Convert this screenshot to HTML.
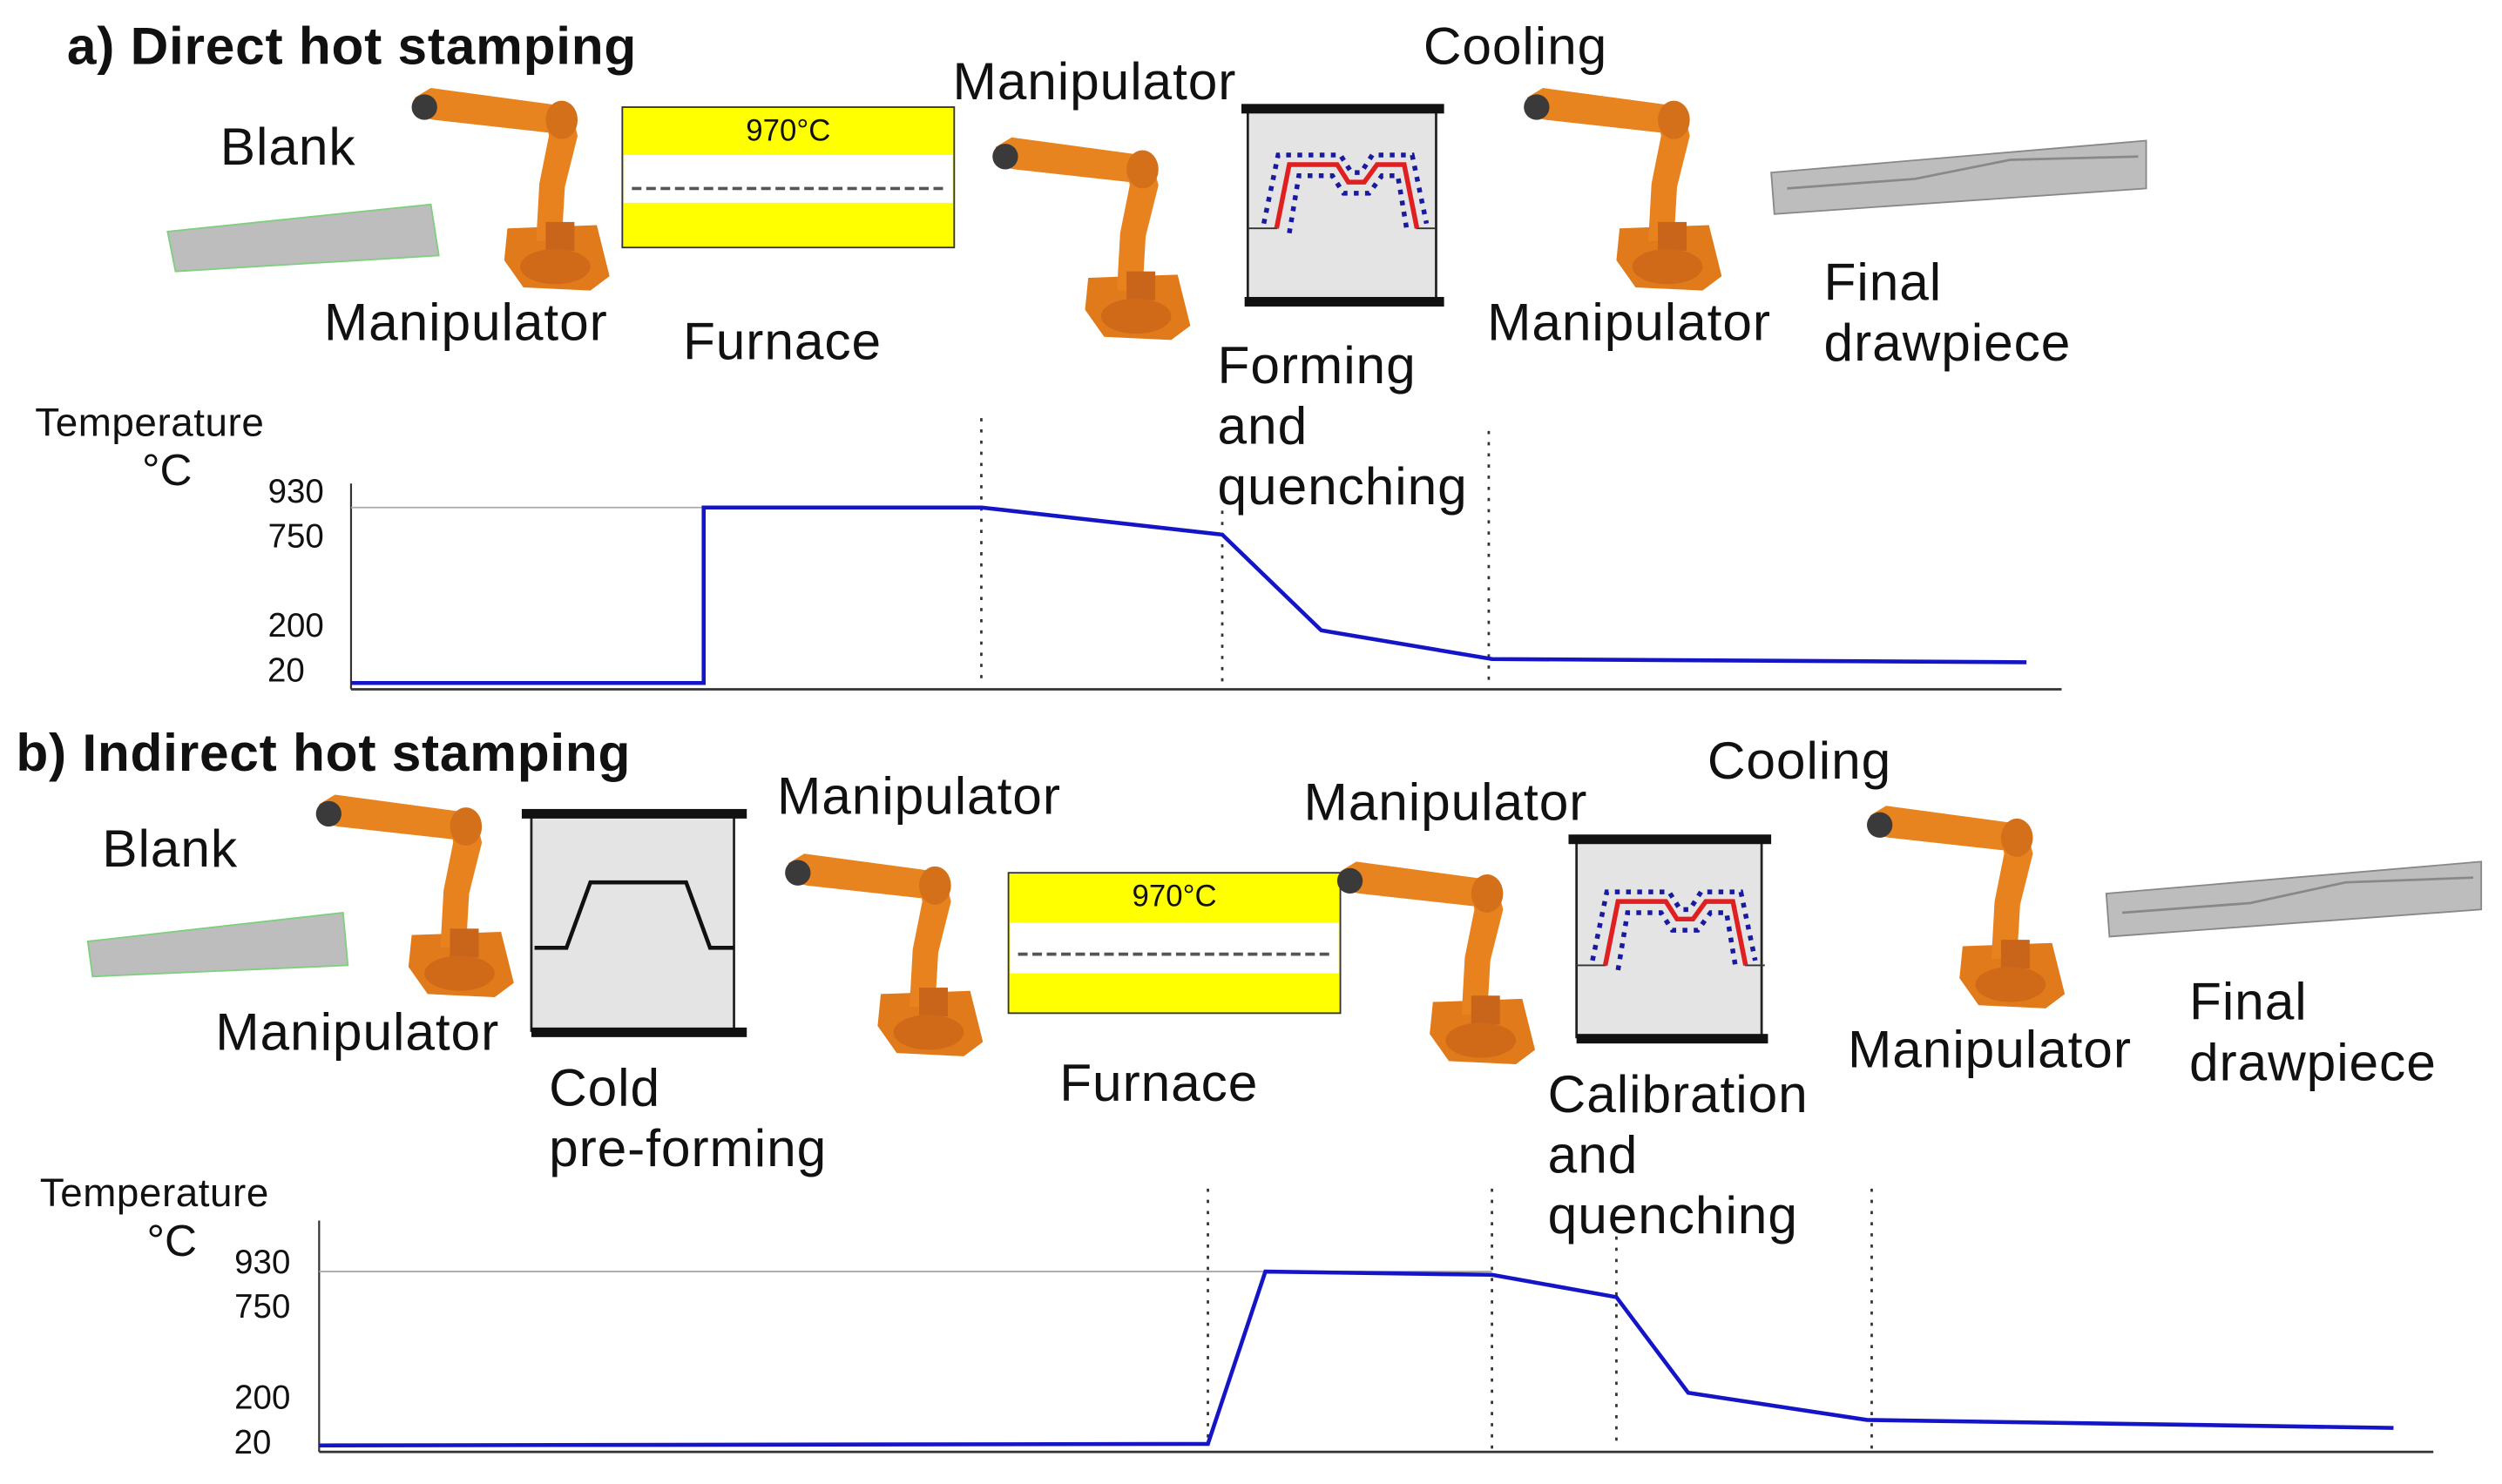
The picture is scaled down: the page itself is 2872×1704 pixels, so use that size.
<!DOCTYPE html>
<html><head><meta charset="utf-8"><style>
html,body{margin:0;padding:0;background:#fff;}
svg{display:block;}
text{font-family:"Liberation Sans",Arial,sans-serif;fill:#111;}
.l{font-size:33px;letter-spacing:0.5px;}
.t{font-size:33px;font-weight:bold;letter-spacing:0.4px;}
.s{font-size:25px;letter-spacing:0.3px;}
.c{font-size:28px;}
.f{font-size:21px;}
.fu{font-size:19px;}
</style></head><body>
<svg width="2872" height="1704" viewBox="0 0 1568 930" xmlns="http://www.w3.org/2000/svg">
<defs>
<g id="robot">
  <polygon points="60,88 116,86 124,118 112,127 70,125 58,108" fill="#e07a1a"/>
  <polygon points="84,18 100,14 104,30 96,62 94,96 78,96 80,60 86,30" fill="#e8821e"/>
  <polygon points="2,6 12,0 86,10 100,12 102,26 86,28 14,20 4,18" fill="#e8841f"/>
  <ellipse cx="8" cy="12" rx="8" ry="8" fill="#3a3a3a"/>
  <ellipse cx="94" cy="20" rx="10" ry="12" fill="#d4701a"/>
  <rect x="84" y="84" width="18" height="18" fill="#c9651a"/>
  <ellipse cx="90" cy="112" rx="22" ry="11" fill="#d06a18"/>
</g>
<g id="profile">
  <polyline points="0,73 18,73 26,33 56,33 63,44 73,44 81,33 98,33 106,73 118,73" fill="none" stroke="#333" stroke-width="1"/>
  <polyline points="18,73 26,33 56,33 63,44 73,44 81,33 98,33 106,73" fill="none" stroke="#e02020" stroke-width="3"/>
  <polyline points="10,70 19,27 58,27 65,38 71,38 78,27 103,27 112,70" fill="none" stroke="#1a1aa0" stroke-width="3" stroke-dasharray="3,4"/>
  <polyline points="26,76 32,40 53,40 60,51 76,51 84,40 94,40 100,76" fill="none" stroke="#1a1aa0" stroke-width="3" stroke-dasharray="3,4"/>
</g>
</defs>

<!-- ===== a) ===== -->
<text class="t" x="42" y="40">a) Direct hot stamping</text>
<text class="l" x="138" y="103">Blank</text>
<polygon points="105,145 270,128 275,160 110,170" fill="#bdbdbd" stroke="#7fcf7f" stroke-width="1"/>
<use href="#robot" x="258" y="55"/>
<text class="l" x="203" y="213">Manipulator</text>
<rect x="390" y="67" width="208" height="88" fill="#ffff00" stroke="#333" stroke-width="1"/>
<rect x="391" y="97" width="206" height="30" fill="#fff"/>
<line x1="396" y1="118" x2="592" y2="118" stroke="#555" stroke-width="2" stroke-dasharray="6,3"/>
<text class="fu" x="494" y="88" text-anchor="middle">970°C</text>
<text class="l" x="428" y="225">Furnace</text>
<text class="l" x="597" y="62">Manipulator</text>
<use href="#robot" x="622" y="86"/>
<rect x="782" y="70" width="118" height="118" fill="#e4e4e4" stroke="#222" stroke-width="1.5"/>
<rect x="778" y="65" width="127" height="6" fill="#111"/>
<rect x="780" y="186" width="125" height="6" fill="#111"/>
<use href="#profile" x="782" y="70"/>
<text class="l" x="892" y="40">Cooling</text>
<use href="#robot" x="955" y="55"/>
<text class="l" x="932" y="213">Manipulator</text>
<polygon points="1110,108 1345,88 1345,118 1112,134" fill="#bdbdbd" stroke="#888" stroke-width="1"/>
<polyline points="1120,118 1200,112 1260,100 1340,98" fill="none" stroke="#888" stroke-width="1.5"/>
<text class="l" x="1143" y="188">Final</text>
<text class="l" x="1143" y="226">drawpiece</text>
<text class="l" x="763" y="240">Forming</text>
<text class="l" x="763" y="278">and</text>
<text class="l" x="763" y="316">quenching</text>

<text class="s" x="22" y="273">Temperature</text>
<text class="c" x="89" y="304">°C</text>
<text class="f" x="203" y="315" text-anchor="end">930</text>
<text class="f" x="203" y="343" text-anchor="end">750</text>
<text class="f" x="203" y="399" text-anchor="end">200</text>
<text class="f" x="191" y="427" text-anchor="end">20</text>
<line x1="220" y1="303" x2="220" y2="432" stroke="#333" stroke-width="1.2"/>
<line x1="220" y1="432" x2="1292" y2="432" stroke="#333" stroke-width="1.5"/>
<line x1="220" y1="318" x2="615" y2="318" stroke="#aaa" stroke-width="1"/>
<line x1="615" y1="262" x2="615" y2="425" stroke="#333" stroke-width="1.5" stroke-dasharray="2,5"/>
<line x1="766" y1="320" x2="766" y2="428" stroke="#333" stroke-width="1.5" stroke-dasharray="2,5"/>
<line x1="933" y1="270" x2="933" y2="430" stroke="#333" stroke-width="1.5" stroke-dasharray="2,5"/>
<polyline points="220,428 441,428 441,318 615,318 766,335 828,395 935,413 1270,415" fill="none" stroke="#1515c8" stroke-width="2.5"/>

<!-- ===== b) ===== -->
<text class="t" x="10" y="483">b) Indirect hot stamping</text>
<text class="l" x="64" y="543">Blank</text>
<polygon points="55,590 215,572 218,605 58,612" fill="#bdbdbd" stroke="#7fcf7f" stroke-width="1"/>
<use href="#robot" x="198" y="498"/>
<text class="l" x="135" y="658">Manipulator</text>
<rect x="333" y="512" width="127" height="134" fill="#e4e4e4" stroke="#222" stroke-width="1.5"/>
<rect x="327" y="507" width="141" height="6" fill="#111"/>
<rect x="333" y="644" width="135" height="6" fill="#111"/>
<polyline points="335,594 355,594 370,553 430,553 445,594 460,594" fill="none" stroke="#111" stroke-width="2.5"/>
<text class="l" x="344" y="693">Cold</text>
<text class="l" x="344" y="731">pre-forming</text>
<text class="l" x="487" y="510">Manipulator</text>
<use href="#robot" x="492" y="535"/>
<rect x="632" y="547" width="208" height="88" fill="#ffff00" stroke="#333" stroke-width="1"/>
<rect x="633" y="578" width="206" height="32" fill="#fff"/>
<line x1="638" y1="598" x2="834" y2="598" stroke="#555" stroke-width="2" stroke-dasharray="6,3"/>
<text class="fu" x="736" y="568" text-anchor="middle">970°C</text>
<text class="l" x="664" y="690">Furnace</text>
<text class="l" x="817" y="514">Manipulator</text>
<use href="#robot" x="838" y="540"/>
<rect x="988" y="528" width="116" height="122" fill="#e4e4e4" stroke="#222" stroke-width="1.5"/>
<rect x="983" y="523" width="127" height="6" fill="#111"/>
<rect x="988" y="648" width="120" height="6" fill="#111"/>
<use href="#profile" x="988" y="532" />
<text class="l" x="1070" y="488">Cooling</text>
<use href="#robot" x="1170" y="505"/>
<text class="l" x="1158" y="669">Manipulator</text>
<polygon points="1320,560 1555,540 1555,570 1322,587" fill="#bdbdbd" stroke="#888" stroke-width="1"/>
<polyline points="1330,572 1410,566 1470,553 1550,550" fill="none" stroke="#888" stroke-width="1.5"/>
<text class="l" x="1372" y="639">Final</text>
<text class="l" x="1372" y="677">drawpiece</text>
<text class="l" x="970" y="697">Calibration</text>
<text class="l" x="970" y="735">and</text>
<text class="l" x="970" y="773">quenching</text>

<text class="s" x="25" y="756">Temperature</text>
<text class="c" x="92" y="787">°C</text>
<text class="f" x="182" y="798" text-anchor="end">930</text>
<text class="f" x="182" y="826" text-anchor="end">750</text>
<text class="f" x="182" y="883" text-anchor="end">200</text>
<text class="f" x="170" y="911" text-anchor="end">20</text>
<line x1="200" y1="765" x2="200" y2="910" stroke="#333" stroke-width="1.2"/>
<line x1="200" y1="910" x2="1525" y2="910" stroke="#333" stroke-width="1.5"/>
<line x1="200" y1="797" x2="935" y2="797" stroke="#aaa" stroke-width="1"/>
<line x1="757" y1="745" x2="757" y2="905" stroke="#333" stroke-width="1.5" stroke-dasharray="2,5"/>
<line x1="935" y1="745" x2="935" y2="910" stroke="#333" stroke-width="1.5" stroke-dasharray="2,5"/>
<line x1="1013" y1="775" x2="1013" y2="905" stroke="#333" stroke-width="1.5" stroke-dasharray="2,5"/>
<line x1="1173" y1="745" x2="1173" y2="910" stroke="#333" stroke-width="1.5" stroke-dasharray="2,5"/>
<polyline points="200,906 757,905 793,797 935,799 1013,813 1058,873 1170,890 1500,895" fill="none" stroke="#1515c8" stroke-width="2.5"/>
</svg>
</body></html>
